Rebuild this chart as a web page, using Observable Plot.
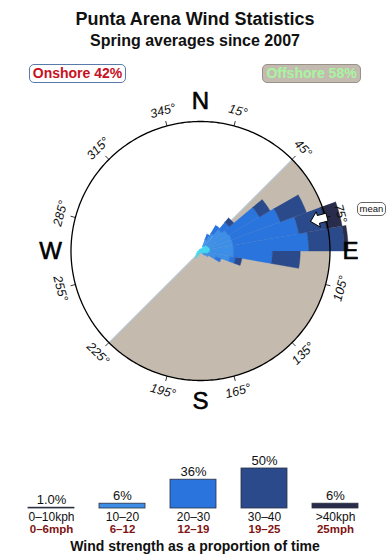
<!DOCTYPE html>
<html><head><meta charset="utf-8">
<script src="https://cdn.jsdelivr.net/npm/d3@7"></script>
<script src="https://cdn.jsdelivr.net/npm/@observablehq/plot@0.6"></script>
<style>
body{margin:0;background:#fff;font-family:"Liberation Sans",Arial,sans-serif;}
#page{position:relative;width:390px;height:560px;overflow:hidden;background:#fff;}
.abs{position:absolute;white-space:nowrap;}
</style></head><body><div id="page"></div>
<script>
// ---------- data ----------
const title = "Punta Arena Wind Statistics";
const subtitle = "Spring averages since 2007";
const onshoreLabel = "Onshore 42%";
const offshoreLabel = "Offshore 58%";
const offshoreFrom = 45, offshoreTo = 225;   // degrees, clockwise
const meanDir = 75;
const binWidth = 10;
const dirCenters = [5,15,25,35,45,55,65,75,85,95,105,115,125,135,145,155,165,175,185,195,205,215,225,235,245,255,265,275,285,295,305,315,325,335,345,355];
const speedClasses = ["0-10","10-20","20-30","30-40",">40"];
const classColors = ["#3fd6f2","#3c8ee6","#2a74dd","#2b4a8b","#292c4a"];
// percent of time per direction bin, per speed class
const s0_10  = [0.3,0.4,0.8,0.9,1.2,1.3,1.4,1.5,1.5,1.4,1.2,0.9,0.6,0.5,0.6,0.4,0.3,0.2,0.3,0.3,0.6,1.3,1.0,0.8,0.5,0.6,0.3,0.2,0.2,0.3,0.2,0.3,0.2,0.3,0.2,0.3];
const s10_20 = [0,0,1.1,2.2,3.1,3.6,3.7,3.6,3.6,3.7,3.4,1.6,0.8,0.4,0,0,0,0,0,0,0,0,0,0,0,0,0,0,0,0,0,0,0,0,0,0];
const s20_30 = [0,0,0.9,1.5,1.5,5.6,8.0,10.3,11.6,6.0,0.9,0.9,0,0,0,0,0,0,0,0,0,0,0,0,0,0,0,0,0,0,0,0,0,0,0,0];
const s30_40 = [0,0,0,0,0.9,1.9,4.3,4.3,5.5,4.3,1.0,0,0,0,0,0,0,0,0,0,0,0,0,0,0,0,0,0,0,0,0,0,0,0,0,0];
const s40up  = [0,0,0,0,0,0,0,2.5,0.6,0,0,0,0,0,0,0,0,0,0,0,0,0,0,0,0,0,0,0,0,0,0,0,0,0,0,0];
const speedSeries = [s0_10, s10_20, s20_30, s30_40, s40up];
const circlePct = 20;   // percent at the outer circle
const tickAngles = [15,45,75,105,135,165,195,225,255,285,315,345];
const compassLetters = ["N","E","S","W"];
const compassAngles = [0,90,180,270];
// legend
const legendPct = [1.0, 6, 36, 50, 6];
const kphLabels = ["0–10kph","10–20","20–30","30–40",">40kph"];
const mphLabels = ["0–6mph","6–12","12–19","19–25","25mph"];
const legendTitle = "Wind strength as a proportion of time";

// ---------- layout ----------
const page = document.getElementById("page");
const FONT = "Liberation Sans, Arial, sans-serif";
function addText(txt, fs, baseline, css) {
  const d = document.createElement("div");
  d.className = "abs";
  d.textContent = txt;
  d.style.cssText += `left:0;width:390px;text-align:center;font-size:${fs}px;line-height:${fs}px;top:${baseline - 0.8465*fs}px;` + (css||"");
  page.appendChild(d);
  return d;
}
addText(title, 18, 25, "font-weight:bold;color:#111;");
addText(subtitle, 16, 47, "font-weight:bold;color:#111;");

function addBox(txt, left, width, css) {
  const d = document.createElement("div");
  d.className = "abs";
  d.textContent = txt;
  d.style.cssText += `left:${left}px;top:64px;width:${width}px;height:19px;box-sizing:border-box;border-radius:5px;font-size:14px;line-height:17px;font-weight:bold;text-align:center;` + css;
  page.appendChild(d);
}
addBox(onshoreLabel, 29, 97, "background:#fff;border:1px solid #5a7aa8;color:#c8101e;");
addBox(offshoreLabel, 262, 99, "background:#c4bbb0;border:1px solid #9a9288;color:#a8f5a0;");

// ---------- rose ----------
const roseTop = 86, roseH = 346, cx = 200, cy = 250.5 - roseTop, Rpx = 129.5;
const k = Rpx / circlePct;   // px per percent
const pt = (r, a) => { const t = a * Math.PI / 180; return [r * Math.sin(t), r * Math.cos(t)]; };

// offshore sector
const offRows = [[0,0]];
for (let a = offshoreFrom; a <= offshoreTo; a += 1) offRows.push(pt(circlePct, a));
// diameter line
const diamRows = [pt(circlePct, offshoreFrom), pt(circlePct, offshoreTo)];
// wedges
const wedgeRows = speedClasses.map(() => []);
const base = dirCenters.map(() => 0);
speedSeries.forEach((series, c) => {
  dirCenters.forEach((dc, i) => {
    const v = series[i];
    const r0 = base[i], r1 = r0 + v;
    base[i] = r1;
    if (!(v > 0)) return;
    const a0 = dc - binWidth/2, a1 = dc + binWidth/2, id = c + "-" + i;
    for (let a = a0; a <= a1 + 1e-9; a += 1) { const [x,y] = pt(r1, a); wedgeRows[c].push({x, y, id}); }
    if (r0 > 0) for (let a = a1; a >= a0 - 1e-9; a -= 1) { const [x,y] = pt(r0, a); wedgeRows[c].push({x, y, id}); }
    else wedgeRows[c].push({x: 0, y: 0, id});
  });
});
// circle
const circleRows = d3.range(0, 361, 1).map(a => pt(circlePct, a));
// mean arrow (pointing to the centre)
const arrowShape = [[114,0],[122,8],[122,4],[131,4],[131,-4],[122,-4],[122,-8],[114,0]];
const arrowRows = arrowShape.map(([along, side]) => {
  const t = meanDir * Math.PI / 180;
  const u = [Math.sin(t), Math.cos(t)], v = [Math.cos(t), -Math.sin(t)];
  return [(u[0]*along + v[0]*side)/k, (u[1]*along + v[1]*side)/k];
});
const rotFor = a => (a > 90 && a < 270) ? a - 180 : (a >= 270 ? a - 360 : a);

const rose = Plot.plot({
  width: 390, height: roseH, margin: 0,
  style: {fontFamily: FONT, background: "transparent", overflow: "visible"},
  x: {domain: [-cx / k, (390 - cx) / k], range: [0, 390], axis: null},
  y: {domain: [-(roseH - cy) / k, cy / k], range: [roseH, 0], axis: null},
  marks: [
    Plot.line(offRows, {x: d => d[0], y: d => d[1], fill: "#c5baae", stroke: "none"}),
    Plot.line(diamRows, {x: d => d[0], y: d => d[1], stroke: "#a9cbe9", strokeWidth: 1}),
    ...wedgeRows.map((rows, c) => Plot.line(rows, {x: "x", y: "y", z: "id", fill: classColors[c], stroke: classColors[c], strokeWidth: 0.4, curve: "linear"})),
    Plot.line(circleRows, {x: d => d[0], y: d => d[1], stroke: "#000", strokeWidth: 1.3}),
    Plot.link(tickAngles, {x1: a => pt(circlePct, a)[0], y1: a => pt(circlePct, a)[1], x2: a => pt(circlePct + 5/k, a)[0], y2: a => pt(circlePct + 5/k, a)[1], stroke: "#000", strokeWidth: 0.8}),
    Plot.text(tickAngles, {x: a => pt(145/k, a)[0], y: a => pt(145/k, a)[1], text: a => a + "°", rotate: a => rotFor(a), fontSize: 12.5, fontStyle: "italic", fill: "#111", lineAnchor: "middle", textAnchor: "middle"}),
    Plot.text(compassLetters, {x: (d, i) => pt(150/k, compassAngles[i])[0], y: (d, i) => pt(150/k, compassAngles[i])[1], text: d => d, fontSize: 24, fill: "#000", stroke: "#000", strokeWidth: 0.6, lineAnchor: "middle", textAnchor: "middle"}),
    Plot.line(arrowRows, {x: d => d[0], y: d => d[1], fill: "#fff", stroke: "#000", strokeWidth: 1, strokeLinejoin: "miter"})
  ]
});
rose.style.position = "absolute";
rose.style.left = "0px";
rose.style.top = roseTop + "px";
page.appendChild(rose);

// mean tag
const meanTag = document.createElement("div");
meanTag.className = "abs";
meanTag.textContent = "mean";
meanTag.style.cssText += "left:357px;top:202px;width:29px;height:14px;box-sizing:border-box;border:1px solid #666;border-radius:5px;font-size:9.5px;line-height:12px;text-align:center;color:#111;background:#fff;";
page.appendChild(meanTag);

// ---------- legend ----------
const legTop = 432, legH = 128;
const legendRows = speedClasses.map((cls, i) => ({cls, pct: legendPct[i], color: classColors[i], kph: kphLabels[i], mph: mphLabels[i]}));
const legend = Plot.plot({
  width: 390, height: legH, margin: 0,
  style: {fontFamily: FONT, background: "transparent", overflow: "visible"},
  x: {type: "band", domain: speedClasses, range: [15.5, 370.5], paddingInner: 0.35, paddingOuter: 0.175, axis: null},
  y: {domain: [0, 50], range: [76, 36], axis: null},
  color: {type: "identity"},
  marks: [
    Plot.barY(legendRows, {x: "cls", y: "pct", fill: d => d.color, stroke: "#2a3040", strokeWidth: 0.8}),
    Plot.text(legendRows, {x: "cls", y: "pct", text: d => d.pct < 2 ? d.pct.toFixed(1) + "%" : d.pct.toFixed(0) + "%", dy: -4, lineAnchor: "bottom", fontSize: 13, fill: "#111"}),
    Plot.text(legendRows, {x: "cls", y: 0, text: "kph", dy: 12, lineAnchor: "bottom", fontSize: 12, fill: "#111"}),
    Plot.text(legendRows, {x: "cls", y: 0, text: "mph", dy: 24.5, lineAnchor: "bottom", fontSize: 11.5, fontWeight: "bold", fill: "#7f1414"})
  ]
});
legend.style.position = "absolute";
legend.style.left = "0px";
legend.style.top = legTop + "px";
page.appendChild(legend);

addText(legendTitle, 14, 551, "font-weight:bold;color:#111;");
</script></body></html>
